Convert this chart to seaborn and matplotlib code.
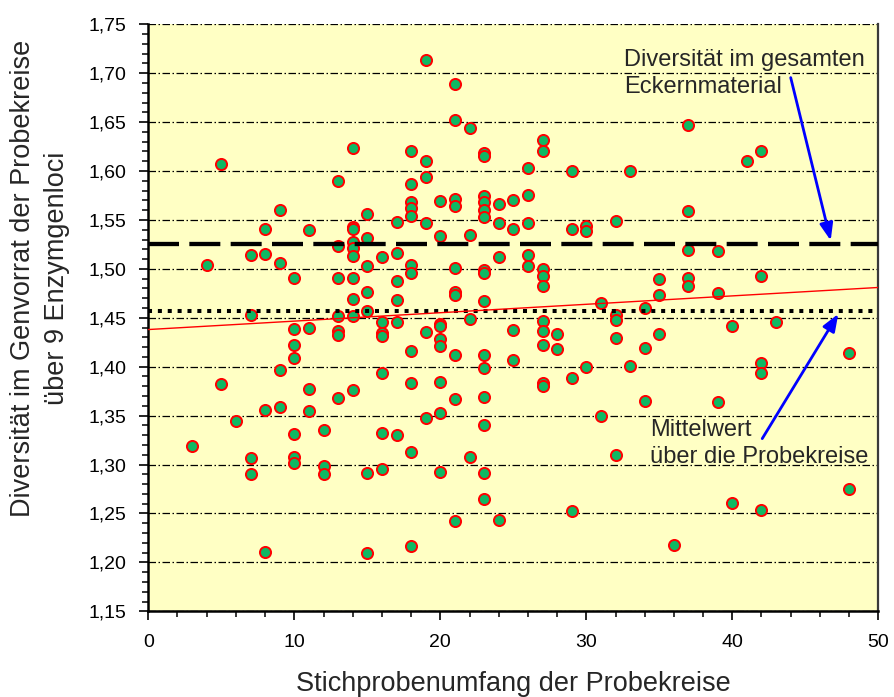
import matplotlib
matplotlib.use("Agg")
import matplotlib.pyplot as plt
from matplotlib.ticker import MultipleLocator, FuncFormatter
import pandas as pd
import seaborn as sns

# Sample size per plot (x) and gene-pool diversity over 9 enzyme loci (y)
umfang = [
    3, 4, 5, 5, 6,
    7, 7, 7, 7,
    8, 8, 8, 8,
    9, 9, 9, 9,
    10, 10, 10, 10, 10, 10, 10,
    11, 11, 11, 11,
    12, 12, 12,
    13, 13, 13, 13, 13, 13, 13,
    14, 14, 14, 14, 14, 14, 14, 14, 14, 14,
    15, 15, 15, 15, 15, 15, 15,
    16, 16, 16, 16, 16, 16, 16,
    17, 17, 17, 17, 17, 17,
    18, 18, 18, 18, 18, 18, 18, 18, 18, 18, 18,
    19, 19, 19, 19, 19, 19,
    20, 20, 20, 20, 20, 20, 20, 20, 20,
    21, 21, 21, 21, 21, 21, 21, 21, 21, 21,
    22, 22, 22, 22,
    23, 23, 23, 23, 23, 23, 23, 23, 23, 23, 23, 23, 23, 23, 23,
    24, 24, 24, 24,
    25, 25, 25, 25,
    26, 26, 26, 26, 26,
    27, 27, 27, 27, 27, 27, 27, 27, 27, 27,
    28, 28,
    29, 29, 29, 29,
    30, 30, 30,
    31, 31,
    32, 32, 32, 32, 32,
    33, 33,
    34, 34, 34,
    35, 35, 35,
    36,
    37, 37, 37, 37, 37,
    39, 39, 39,
    40, 40,
    41,
    42, 42, 42, 42, 42,
    43,
    48, 48,
]
diversitaet = [
    1.319, 1.504, 1.607, 1.382, 1.345,
    1.514, 1.453, 1.307, 1.290,
    1.541, 1.515, 1.356, 1.211,
    1.560, 1.506, 1.397, 1.359,
    1.491, 1.439, 1.422, 1.409, 1.331, 1.308, 1.302,
    1.540, 1.440, 1.377, 1.355,
    1.335, 1.299, 1.290,
    1.590, 1.523, 1.491, 1.452, 1.436, 1.432, 1.368,
    1.624, 1.543, 1.541, 1.527, 1.521, 1.513, 1.491, 1.469, 1.452, 1.376,
    1.556, 1.532, 1.503, 1.476, 1.457, 1.291, 1.210,
    1.512, 1.446, 1.434, 1.431, 1.394, 1.332, 1.295,
    1.548, 1.516, 1.488, 1.468, 1.446, 1.330,
    1.620, 1.587, 1.568, 1.562, 1.554, 1.504, 1.496, 1.416, 1.383, 1.313, 1.217,
    1.713, 1.610, 1.594, 1.547, 1.435, 1.348,
    1.569, 1.534, 1.444, 1.442, 1.428, 1.421, 1.384, 1.353, 1.292,
    1.689, 1.652, 1.571, 1.564, 1.501, 1.476, 1.473, 1.412, 1.367, 1.242,
    1.644, 1.535, 1.449, 1.308,
    1.618, 1.615, 1.574, 1.568, 1.560, 1.553, 1.499, 1.496, 1.467, 1.412,
    1.399, 1.369, 1.340, 1.291, 1.265,
    1.566, 1.547, 1.512, 1.243,
    1.570, 1.541, 1.438, 1.407,
    1.603, 1.576, 1.547, 1.514, 1.503,
    1.632, 1.621, 1.500, 1.493, 1.483, 1.447, 1.436, 1.422, 1.383, 1.380,
    1.433, 1.418,
    1.600, 1.541, 1.388, 1.253,
    1.544, 1.539, 1.400,
    1.465, 1.350,
    1.549, 1.453, 1.448, 1.429, 1.310,
    1.600, 1.401,
    1.460, 1.419, 1.365,
    1.490, 1.473, 1.433,
    1.218,
    1.647, 1.559, 1.519, 1.491, 1.483,
    1.518, 1.475, 1.364,
    1.442, 1.261,
    1.610,
    1.621, 1.493, 1.404, 1.394, 1.254,
    1.446,
    1.414, 1.275,
]

# Reference levels and linear trend
gesamt_diversitaet = 1.525      # diversity of the pooled beechnut material
mittelwert = 1.457              # mean over all sample plots
trend_achsenabschnitt = 1.438
trend_steigung = 0.00086

x_ticks = [0, 10, 20, 30, 40, 50]
y_ticks = [1.15, 1.20, 1.25, 1.30, 1.35, 1.40, 1.45, 1.50, 1.55, 1.60, 1.65, 1.70, 1.75]

x_label = "Stichprobenumfang der Probekreise"
y_label = "Diversität im Genvorrat der Probekreise\nüber 9 Enzymgenloci"
text_gesamt = "Diversität im gesamten\nEckernmaterial"
text_mittel = "Mittelwert\nüber die Probekreise"

df = pd.DataFrame({"umfang": umfang, "diversitaet": diversitaet})

sns.set_style("white")
plt.rcParams["font.family"] = ["Liberation Sans", "DejaVu Sans"]

W, H = 895, 697
fig = plt.figure(figsize=(W / 100, H / 100), dpi=100)
left, right, top, bottom = 148.3, 878.3, 24.3, 611.3
ax = fig.add_axes([left / W, 1 - bottom / H, (right - left) / W, (bottom - top) / H])
ax.set_facecolor("#FFFFC4")

# horizontal dash-dot grid
ax.set_axisbelow(True)
ax.yaxis.grid(True, color="black", linewidth=0.9, linestyle=(0, (6, 2, 1.2, 2)))
ax.xaxis.grid(False)

sns.scatterplot(data=df, x="umfang", y="diversitaet", ax=ax,
                color="#0FB863", edgecolor="#FF0000", linewidth=1.4,
                s=64, zorder=3, legend=False)

ax.axhline(gesamt_diversitaet, color="black", linewidth=3.1,
           linestyle=(0, (7.2, 2.4)), zorder=4)
ax.axhline(mittelwert, color="black", linewidth=2.9,
           linestyle=(0, (1, 1.45)), zorder=4)
ax.axline((0, trend_achsenabschnitt), slope=trend_steigung,
          color="#FF0000", linewidth=1.0, zorder=4)

ax.set_xlim(0, 50)
ax.set_ylim(1.15, 1.75)
ax.set_xticks(x_ticks)
ax.set_yticks(y_ticks)
ax.xaxis.set_minor_locator(MultipleLocator(2))
ax.yaxis.set_minor_locator(MultipleLocator(0.01))
ax.yaxis.set_major_formatter(FuncFormatter(lambda v, _: f"{v:.2f}".replace(".", ",")))
ax.tick_params(axis="both", which="major", direction="out", length=6.5, width=1.2,
               color="black", labelsize=14, labelcolor="black")
ax.tick_params(axis="y", which="major", pad=9)
ax.tick_params(axis="x", which="major", pad=10)
ax.tick_params(axis="both", which="minor", direction="out", length=4, width=1.1,
               color="black")
ax.tick_params(left=True, bottom=True, which="both")

for side in ("left", "bottom"):
    ax.spines[side].set_color("black")
    ax.spines[side].set_linewidth(1.8)
ax.spines["right"].set_color("#3a3a3a")
ax.spines["right"].set_linewidth(1.6)
ax.spines["top"].set_visible(False)

ax.set_xlabel(x_label, fontsize=19.5, labelpad=14)
ax.set_ylabel(y_label, fontsize=19.5, linespacing=1.4)
ax.yaxis.set_label_coords(-0.107, 0.567)

# annotations with blue arrows
ax.text(32.6, 1.7243, text_gesamt, fontsize=17, ha="left", va="top",
        linespacing=1.28, zorder=5)
ax.annotate("", xy=(46.74, 1.529), xytext=(44.0, 1.6955),
            arrowprops=dict(arrowstyle="-|>,head_length=0.65,head_width=0.25",
                            color="#0000FF", lw=2.0, mutation_scale=16,
                            shrinkA=0, shrinkB=0), zorder=5)
ax.text(34.36, 1.3464, text_mittel, fontsize=17, ha="left", va="top",
        linespacing=1.28, zorder=5)
ax.annotate("", xy=(47.26, 1.454), xytext=(42.05, 1.3265),
            arrowprops=dict(arrowstyle="-|>,head_length=0.65,head_width=0.25",
                            color="#0000FF", lw=2.0, mutation_scale=16,
                            shrinkA=0, shrinkB=0), zorder=5)

fig.savefig("out.png", dpi=100, facecolor="white")
